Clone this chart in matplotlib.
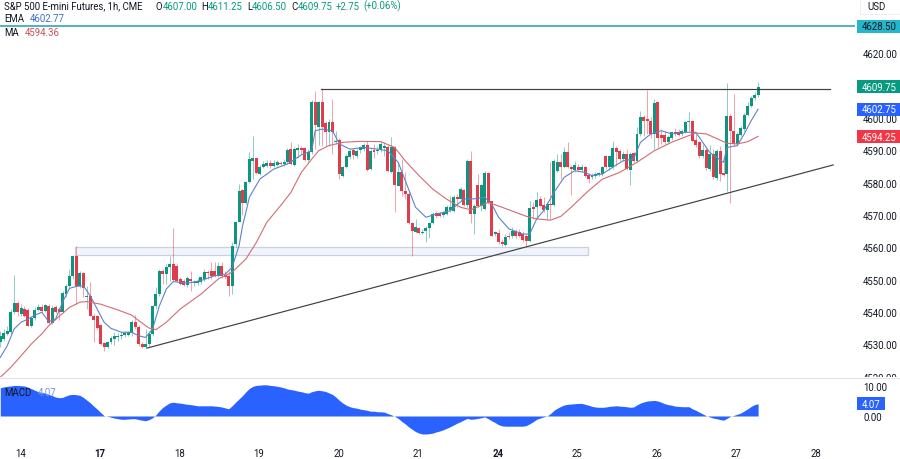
import matplotlib
matplotlib.use("Agg")
import matplotlib.pyplot as plt
from matplotlib.patches import Rectangle
from matplotlib.transforms import Bbox, TransformedBbox

plt.rcParams['font.family'] = ['Roboto', 'DejaVu Sans']

opens = [4530.6,4531.6,4533.2,4533.9,4539.9,4542.8,4539.4,4540.9,4540.7,4535.7,
4538.0,4540.6,4541.6,4540.4,4541.9,4536.6,4541.6,4540.9,4540.1,4545.5,
4548.1,4551.2,4557.2,4548.1,4551.9,4544.6,4545.0,4538.6,4538.6,4535.9,
4530.4,4529.0,4530.6,4531.6,4532.1,4532.4,4532.8,4532.8,4533.5,4537.0,
4535.2,4530.1,4529.2,4530.1,4533.2,4541.7,4545.5,4552.8,4551.7,4554.0,
4554.8,4554.1,4550.2,4549.7,4548.3,4550.2,4548.9,4548.9,4549.4,4550.2,
4552.5,4552.8,4552.8,4551.2,4554.3,4551.4,4551.2,4547.9,4561.0,4567.9,
4577.7,4573.7,4580.1,4586.8,4587.5,4582.7,4585.0,4585.3,4586.1,4585.3,
4585.5,4586.2,4585.8,4586.3,4590.4,4585.5,4590.2,4590.6,4590.6,4587.0,
4589.4,4605.1,4597.3,4605.1,4598.5,4595.6,4598.9,4592.5,4593.3,4582.2,
4584.8,4587.9,4590.2,4588.2,4590.0,4590.4,4591.7,4584.2,4590.2,4589.9,
4590.0,4590.6,4591.1,4583.4,4590.9,4579.1,4583.4,4577.5,4576.5,4567.5,
4564.8,4566.0,4564.4,4565.1,4565.9,4567.5,4570.5,4570.5,4570.0,4570.3,
4571.6,4571.3,4575.5,4575.0,4577.8,4573.1,4586.8,4570.3,4579.3,4572.9,
4571.9,4583.0,4574.2,4564.1,4564.3,4561.5,4560.8,4563.6,4563.4,4565.0,
4564.6,4564.1,4563.4,4562.1,4572.4,4572.4,4574.9,4573.1,4571.6,4573.4,
4573.1,4583.7,4586.3,4584.8,4589.6,4584.8,4584.0,4584.8,4584.0,4584.8,
4582.4,4581.7,4582.2,4582.4,4582.7,4588.2,4584.8,4584.8,4590.7,4589.9,
4587.3,4588.9,4584.0,4589.2,4586.8,4595.1,4600.2,4599.7,4599.2,4595.1,
4604.9,4594.8,4594.8,4592.5,4593.7,4595.6,4595.6,4595.1,4595.8,4598.7,
4599.2,4593.2,4592.5,4588.2,4590.2,4584.2,4588.9,4581.5,4589.9,4583.0,
4582.7,4600.7,4596.1,4592.0,4594.8,4596.6,4600.9,4603.6,4606.2,4607.0]

highs = [4534.2,4534.7,4535.7,4540.9,4551.4,4543.5,4542.4,4541.7,4541.1,4538.8,
4541.4,4542.3,4542.3,4542.6,4542.4,4542.1,4542.1,4541.4,4546.4,4548.6,
4553.3,4557.6,4560.3,4552.8,4552.5,4548.1,4549.2,4539.4,4539.0,4536.3,
4530.8,4531.0,4532.4,4533.7,4533.5,4533.7,4534.2,4534.2,4537.6,4539.0,
4535.9,4530.6,4534.7,4534.2,4542.1,4547.6,4553.3,4553.3,4554.8,4557.2,
4566.0,4554.8,4550.7,4550.2,4551.2,4552.8,4550.0,4550.4,4551.2,4553.3,
4553.1,4555.4,4555.6,4555.4,4555.4,4552.8,4552.8,4561.5,4568.2,4579.6,
4578.2,4580.6,4589.6,4594.6,4587.8,4585.5,4586.8,4587.0,4587.1,4587.0,
4587.1,4586.8,4587.3,4590.6,4592.7,4590.9,4592.0,4591.5,4590.9,4590.4,
4605.7,4608.5,4605.4,4609.2,4599.2,4599.7,4605.9,4596.1,4593.7,4585.3,
4588.9,4590.4,4590.6,4590.4,4591.5,4592.3,4593.0,4590.4,4592.0,4591.5,
4593.0,4592.5,4591.7,4594.0,4591.5,4586.3,4587.3,4583.2,4577.0,4567.9,
4568.8,4566.4,4565.7,4566.7,4567.9,4570.8,4571.3,4571.0,4571.3,4573.1,
4576.0,4576.2,4576.5,4578.6,4578.2,4587.3,4589.9,4573.4,4582.7,4579.6,
4583.7,4583.4,4574.4,4565.1,4565.7,4562.6,4564.1,4564.6,4566.2,4565.7,
4565.7,4565.1,4564.1,4574.4,4573.9,4577.0,4576.0,4575.5,4573.9,4586.3,
4587.3,4588.9,4588.9,4590.9,4592.5,4585.5,4586.8,4585.8,4585.8,4585.1,
4582.7,4583.0,4583.2,4583.4,4585.3,4588.6,4588.6,4593.0,4591.5,4590.4,
4589.9,4590.4,4589.4,4589.6,4597.1,4602.3,4601.0,4608.8,4600.2,4605.9,
4605.1,4596.6,4596.1,4594.8,4596.1,4596.8,4596.6,4596.6,4599.2,4601.8,
4599.5,4595.1,4593.0,4592.0,4590.9,4591.7,4590.4,4590.4,4591.5,4587.3,
4610.9,4601.3,4607.5,4595.6,4597.6,4601.5,4604.9,4606.7,4608.0,4611.25]

lows = [4529.0,4531.1,4532.7,4533.2,4539.4,4538.8,4538.6,4538.3,4535.5,4535.2,
4537.6,4540.3,4540.1,4539.9,4536.3,4536.3,4539.7,4537.6,4539.7,4544.5,
4547.6,4550.2,4542.4,4547.3,4544.5,4540.9,4538.6,4530.8,4534.7,4529.8,
4528.0,4528.7,4530.1,4529.8,4531.1,4531.6,4532.1,4532.4,4532.6,4534.7,
4529.6,4528.7,4528.7,4529.6,4532.6,4540.9,4545.0,4548.6,4548.6,4549.7,
4549.7,4549.4,4548.3,4547.9,4547.6,4546.6,4548.1,4548.3,4548.6,4549.7,
4550.2,4550.2,4550.7,4550.7,4550.4,4550.2,4545.0,4545.5,4560.0,4567.7,
4570.0,4573.4,4579.9,4581.1,4582.6,4582.5,4584.4,4584.8,4584.5,4584.8,
4585.1,4585.3,4585.3,4585.8,4585.5,4585.3,4587.8,4588.9,4586.6,4586.5,
4588.9,4590.4,4591.7,4591.5,4591.5,4591.5,4588.9,4592.0,4581.1,4581.9,
4584.4,4587.3,4587.3,4587.8,4589.2,4589.9,4583.7,4583.9,4587.8,4588.9,
4589.6,4588.2,4583.2,4583.0,4570.8,4578.9,4576.0,4575.0,4567.2,4557.4,
4564.4,4564.1,4564.1,4561.7,4562.8,4567.2,4569.0,4569.3,4569.3,4570.0,
4571.0,4570.8,4572.4,4574.4,4572.9,4572.4,4567.5,4564.1,4572.4,4571.3,
4571.6,4573.4,4563.4,4563.6,4561.0,4560.5,4560.5,4562.6,4562.8,4562.8,
4563.1,4561.5,4560.5,4561.5,4568.8,4568.8,4572.4,4570.8,4568.8,4568.8,
4572.7,4583.2,4581.1,4584.4,4584.4,4576.2,4583.4,4583.4,4583.4,4581.7,
4579.9,4581.1,4581.6,4582.0,4582.2,4584.2,4584.0,4584.2,4585.1,4586.8,
4586.8,4583.9,4579.3,4586.3,4586.3,4594.6,4594.6,4595.1,4593.7,4590.4,
4590.9,4592.0,4592.0,4592.0,4593.3,4594.4,4594.4,4594.6,4595.4,4596.1,
4592.5,4590.9,4587.8,4587.8,4584.0,4583.7,4581.1,4580.9,4580.6,4582.0,
4577.5,4573.7,4591.5,4591.5,4594.4,4596.1,4600.5,4603.3,4605.7,4606.5]

closes = [4532.6,4533.5,4534.2,4540.1,4542.8,4539.9,4541.1,4538.6,4535.7,4538.0,
4540.7,4541.6,4540.4,4542.1,4536.6,4541.3,4539.9,4539.9,4545.9,4548.1,
4551.2,4557.2,4548.1,4552.0,4547.3,4544.8,4538.6,4537.6,4535.1,4530.1,
4529.0,4530.6,4531.8,4532.4,4532.6,4532.8,4533.5,4533.7,4537.0,4535.2,
4530.1,4529.0,4530.1,4533.2,4541.7,4545.5,4552.8,4551.7,4553.8,4554.8,
4550.0,4549.7,4548.6,4548.3,4550.4,4549.7,4549.4,4549.7,4550.7,4552.5,
4552.0,4551.2,4551.2,4554.3,4551.2,4550.7,4548.1,4560.3,4567.9,4577.5,
4573.7,4580.3,4587.3,4587.6,4582.9,4585.0,4585.8,4586.0,4585.1,4586.0,
4586.3,4585.8,4586.3,4590.2,4585.8,4590.4,4590.6,4590.2,4587.0,4589.6,
4605.1,4597.9,4605.1,4597.3,4595.8,4598.9,4595.8,4593.0,4582.7,4584.8,
4588.2,4589.9,4588.6,4589.9,4591.0,4591.7,4584.0,4589.9,4589.6,4590.2,
4592.0,4591.5,4583.5,4591.1,4579.3,4583.4,4577.5,4576.5,4567.5,4564.9,
4566.2,4564.4,4564.8,4565.9,4567.5,4570.3,4569.6,4569.6,4570.8,4572.4,
4572.6,4575.5,4575.0,4578.0,4573.1,4586.8,4570.3,4572.9,4572.9,4579.3,
4583.0,4573.7,4563.6,4564.6,4561.5,4561.0,4563.1,4563.1,4565.1,4563.4,
4563.6,4562.4,4562.1,4572.1,4571.9,4574.7,4572.9,4571.6,4573.4,4573.1,
4586.8,4586.5,4584.8,4589.4,4584.8,4584.2,4585.5,4584.0,4584.8,4582.2,
4581.3,4582.4,4582.7,4583.0,4584.8,4584.8,4588.2,4590.7,4589.6,4587.3,
4588.9,4584.2,4588.9,4586.8,4595.1,4600.2,4599.2,4599.2,4595.1,4604.6,
4593.7,4593.7,4592.5,4594.0,4595.6,4595.1,4594.8,4596.1,4598.9,4599.2,
4593.0,4591.7,4588.2,4590.2,4584.4,4588.9,4581.7,4589.9,4582.7,4582.5,
4600.5,4596.1,4592.0,4595.1,4596.8,4601.0,4603.8,4606.2,4607.1,4609.75]

ma_k = [0,3,6,9,12,14,17,20,23,25,29,34,38,40,43,45,48,52,58,63,67,71,74,77,81,84,87,90,92,95,99,104,110,114,117,121,125,129,133,136,141,145,149,152,155,159,162,165,168,170,174,179,184,189,194,199,201,204,207,210,213,216,219]
ma_vals = [4519.75,4522.8,4526.4,4530.1,4533.2,4535.7,4538.6,4541.4,4543.0,4543.2,4542.4,4540.6,4539.0,4537.3,4535.0,4534.5,4536.8,4540.9,4545.5,4550.2,4552.3,4556.4,4561.5,4567.7,4572.9,4577.0,4583.2,4587.3,4589.9,4591.5,4592.5,4592.8,4592.7,4590.9,4586.8,4582.2,4578.0,4574.9,4572.4,4571.6,4573.9,4572.4,4570.8,4569.6,4568.8,4568.4,4569.6,4572.4,4575.5,4577.5,4581.1,4583.2,4586.3,4589.9,4592.5,4594.6,4595.4,4595.1,4593.7,4592.2,4592.0,4592.7,4594.36]

ema_k = [0,2,4,6,8,10,12,14,16,18,20,22,24,26,28,30,32,35,38,40,42,44,46,48,50,54,58,62,65,67,69,70,72,75,79,83,87,90,91,93,96,98,101,105,109,112,115,118,120,123,126,130,134,137,140,142,144,147,151,153,155,157,160,163,166,169,171,174,177,180,183,185,188,191,194,198,201,203,205,209,210,213,215,217,219]
ema_vals = [4525.9,4529.5,4534.7,4536.8,4537.8,4539.0,4539.9,4537.0,4537.8,4543.0,4547.3,4547.9,4548.1,4545.0,4540.9,4536.8,4534.9,4533.7,4533.7,4532.6,4532.1,4534.7,4541.9,4547.1,4549.4,4548.9,4549.7,4551.2,4551.7,4553.8,4560.5,4566.5,4575.5,4581.1,4584.2,4585.8,4588.6,4589.9,4596.1,4596.6,4596.1,4592.0,4590.4,4590.9,4590.4,4589.9,4586.3,4578.0,4572.4,4569.3,4570.3,4571.3,4575.0,4575.0,4575.5,4573.4,4569.3,4565.7,4564.1,4564.1,4568.8,4571.3,4577.0,4581.7,4583.7,4583.2,4582.2,4582.7,4584.8,4586.8,4587.3,4592.5,4595.1,4596.1,4595.1,4595.6,4595.6,4592.5,4589.4,4586.3,4590.9,4591.5,4595.1,4599.2,4602.77]

macd = [9.4,9.7,9.9,10.0,10.2,10.2,10.1,10.0,9.6,9.1,
8.6,8.1,7.9,7.6,7.2,6.8,6.3,6.1,6.2,6.7,
7.1,7.2,7.1,6.9,6.2,5.3,4.4,3.3,2.3,1.2,
0.1,-0.1,-0.4,-0.7,-0.9,-1.1,-1.1,-1.0,-0.9,-0.9,
-1.2,-1.4,-1.6,-1.2,-0.6,0.4,1.8,2.9,3.7,4.4,
4.6,4.4,4.3,4.1,3.9,3.8,3.6,3.4,3.4,3.4,
3.4,3.4,3.3,3.2,3.0,2.7,2.4,3.4,4.6,5.7,
6.8,8.1,9.2,9.9,10.2,10.3,10.4,10.4,10.2,10.1,
9.9,9.7,9.4,9.0,8.8,8.6,8.3,8.1,7.8,7.6,
8.1,8.4,8.6,8.4,8.2,7.7,7.2,6.3,5.2,4.3,
3.6,3.1,2.8,2.6,2.3,2.1,1.9,1.6,1.6,1.4,
1.4,1.3,0.8,0.4,-0.1,-0.8,-1.8,-2.6,-3.6,-4.4,
-5.2,-5.7,-6.0,-6.0,-5.9,-5.7,-5.3,-5.0,-4.6,-4.1,
-3.6,-3.0,-2.4,-1.9,-1.3,-0.8,-1.1,-1.0,-0.8,-0.6,
-0.3,-0.9,-1.6,-2.2,-2.9,-3.3,-3.4,-3.4,-3.4,-3.4,
-3.4,-3.4,-3.2,-2.6,-1.9,-1.1,-0.7,-0.3,0.0,0.8,
1.9,2.6,3.2,3.7,3.9,4.0,4.1,4.2,4.2,3.9,
3.6,3.2,3.0,2.9,2.9,3.0,3.2,3.3,3.4,3.3,
3.2,3.1,2.9,3.0,3.7,4.3,4.7,5.0,5.1,5.2,
5.0,4.6,4.1,3.8,3.6,3.3,3.2,3.1,3.1,3.1,
2.4,1.9,1.3,0.7,0.1,-0.3,-0.7,-0.9,-1.2,-1.4,
-0.8,-0.1,0.2,0.6,1.0,1.7,2.4,3.2,3.8,4.07]

price_ticks = [4520,4530,4540,4550,4560,4570,4580,4590,4600,4620]
macd_ticks = [0, 10]
day_labels = ['14','17','18','19','20','21','24','25','26','27','28']
day_k = [6,28.8,51.9,74.8,97.9,120.7,143.9,166.7,189.8,212.6,235.8]
bold_days = ['17','24']

resistance = 4609.16
target = 4628.5
zone_k = (21.6,169.9)
zone_price = (4557.6,4560.1)
trend_k = (42.4,240.7)
trend_price = (4528.8,4585.5)
res_k = (92.7,239.8)

GREEN, RED, BLUE = '#089981', '#f23645', '#2962ff'
BODY_GREEN, BODY_RED = '#0e9580', '#e03c4c'
INK = '#131722'
W, H = 900, 460
FS = 6.9

fig = plt.figure(figsize=(W/100, H/100), dpi=100, facecolor='white')
ax = fig.add_axes([0, (H-378)/H, 855/W, 378/H])
am = fig.add_axes([0, (H-437)/H, 855/W, 58/H])

xlim = (-0.075, 247.0)
idx = list(range(len(opens)))
colors = [BODY_GREEN if c >= o else BODY_RED for o, c in zip(opens, closes)]

ax.add_patch(Rectangle((zone_k[0], zone_price[0]), zone_k[1]-zone_k[0], zone_price[1]-zone_price[0],
                       facecolor='#f1f4fb', edgecolor='#c9d0df', lw=0.9, zorder=1))
ax.vlines(idx, lows, highs, colors=colors, lw=0.55, alpha=0.6, zorder=2)
ax.bar(idx, [abs(c-o) for o, c in zip(opens, closes)], bottom=[min(o, c) for o, c in zip(opens, closes)],
       width=0.86, color=colors, lw=0, zorder=3)
ax.plot(ema_k, ema_vals, color='#5f83c8', lw=0.8, zorder=4)
ax.plot(ma_k, ma_vals, color='#cf6d74', lw=0.8, zorder=4)
ax.plot(trend_k, trend_price, color='#3c4043', lw=0.85, zorder=5)
ax.plot(res_k, (resistance, resistance), color='#3c4043', lw=0.85, zorder=5)
ax.axhline(target, color='#1f9fad', lw=1.1, zorder=5)

ax.set_xlim(*xlim)
ax.set_ylim(4519.85, 4636.87)
ax.set_xticks([])
ax.yaxis.tick_right()
ax.set_yticks(price_ticks)
ax.set_yticklabels([f'{t:.2f}' for t in price_ticks])
ax.tick_params(axis='y', length=0, pad=5.8, labelsize=FS, labelcolor=INK)
for s in ax.spines.values():
    s.set_visible(False)
clip = TransformedBbox(Bbox([[0, (H-378)/H], [1, 1]]), fig.transFigure)
ax.get_yticklabels()[0].set_clip_box(clip)
ax.get_yticklabels()[0].set_clip_on(True)

am.fill_between(idx, 0, macd, color=BLUE, lw=0)
am.set_xlim(*xlim)
am.set_ylim(-6.67, 12.67)
am.yaxis.tick_right()
am.set_yticks(macd_ticks)
am.set_yticklabels([f'{t:.2f}' for t in macd_ticks])
am.set_xticks(day_k)
am.set_xticklabels(day_labels)
am.tick_params(axis='y', length=0, pad=5.8, labelsize=FS, labelcolor=INK)
am.tick_params(axis='x', length=0, pad=8.5, labelsize=FS, labelcolor=INK)
for lab in am.get_xticklabels():
    if lab.get_text() in bold_days:
        lab.set_fontweight('bold')
for s in am.spines.values():
    s.set_visible(False)

fig.add_artist(plt.Line2D([0, 1], [(H-378.5)/H]*2, color='#e0e3eb', lw=0.8))


def px(x, y):
    return x/W, (H-y)/H


def label(axis, value, text, face, ink, x0=856.5, x1=900, half=6.5):
    y = axis.transData.transform((0, value))[1]
    yp = H - y
    fig.add_artist(Rectangle(px(x0, yp+half), (x1-x0)/W, 2*half/H, transform=fig.transFigure,
                             facecolor=face, edgecolor='none', zorder=20))
    fig.text((x0+(x1-x0)/2)/W if x1 < 900 else 879/W, (H-yp)/H, text, color=ink, fontsize=FS,
             ha='center', va='center', zorder=21)


label(ax, target, '4628.50', '#24b6cc', INK)
label(ax, closes[-1], '4609.75', GREEN, 'white')
label(ax, 4602.75, '4602.75', BLUE, 'white')
label(ax, 4594.25, '4594.25', RED, 'white')
label(am, macd[-1], '4.07', BLUE, 'white', x1=885)

fig.add_artist(Rectangle(px(860, 15), 40/W, 15/H, transform=fig.transFigure,
                         facecolor='white', edgecolor='#eceef2', lw=0.7, zorder=20))
fig.text(*px(867, 6.5), 'USD', color=INK, fontsize=FS, va='center', zorder=21)


def t(x, y, s, c=INK):
    fig.text(*px(x, y), s, color=c, fontsize=FS, va='center', zorder=21)


t(4, 6.5, 'S&P 500 E-mini Futures, 1h, CME')
t(155, 6.5, 'O'); t(163, 6.5, '4607.00', GREEN)
t(201, 6.5, 'H'); t(208, 6.5, '4611.25', GREEN)
t(247, 6.5, 'L'); t(252, 6.5, '4606.50', GREEN)
t(291, 6.5, 'C'); t(298, 6.5, '4609.75', GREEN)
t(336, 6.5, '+2.75', GREEN); t(363, 6.5, '(+0.06%)', GREEN)
t(4, 19.5, 'EMA'); t(30, 19.5, '4602.77', '#3f6fc4')
t(4, 33, 'MA'); t(25, 33, '4594.36', '#c9505a')
t(4, 393, 'MACD'); t(38, 393, '4.07', '#6f93e8')

fig.savefig('out.png', dpi=100, facecolor='white')
